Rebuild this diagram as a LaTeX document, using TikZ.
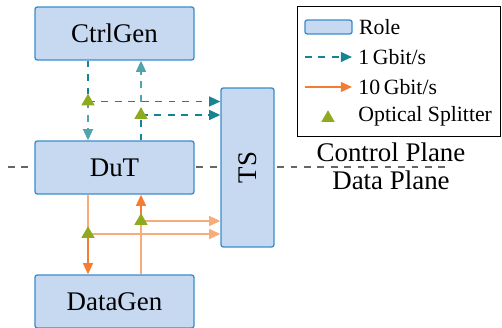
\documentclass[tikz,border=0pt]{standalone}
\usepackage{fontspec}
\setmainfont{Liberation Serif}
\usetikzlibrary{positioning}
\usetikzlibrary{arrows.meta,shapes.geometric}

\definecolor{rolefill}{RGB}{198,217,240}
\definecolor{roledraw}{RGB}{58,140,204}
\definecolor{ctrlcol}{RGB}{23,132,145}
\definecolor{datacol}{RGB}{245,125,50}
\definecolor{splitcol}{RGB}{143,170,30}

\tikzset{
  role/.style={draw=roledraw,fill=rolefill,line width=0.6pt,rounded corners=1pt,
    minimum width=70.9pt,minimum height=23.6pt,inner sep=0pt,font=\large},
  gbit/.style={ctrlcol,dashed,line width=0.8pt},
  tengbit/.style={datacol,line width=0.8pt},
  arrowed/.style={-{Triangle[length=5pt,width=4.4pt]}},
  splitter/.style={regular polygon,regular polygon sides=3,fill=splitcol,
    inner sep=0pt,minimum size=6.9pt},
  plane/.style={gray!80!black,dashed,line width=0.6pt},
  keytext/.style={inner sep=0pt,font=\fontsize{9.7}{11}\selectfont}
}

\begin{document}
\begin{tikzpicture}[x=0.446pt,y=-0.446pt]
\useasboundingbox (0,0) rectangle (502,328);

% plane border
\draw[plane] (8,167) -- (447,167);

% roles
\node[role] (ctrl) at (114.5,33.5) {CtrlGen};
\node[role] (dut) at (114.5,167.5) {DuT};
\node[role] (data) at (114.5,301.5) {DataGen};
\node[role,minimum width=23.6pt,minimum height=70.9pt] (ts) at (247.5,167.5) {\rotatebox{90}{TS}};

% splitters
\coordinate (s1) at (88,101.5);
\coordinate (s2) at (141,115);
\coordinate (s3) at (141,221);
\coordinate (s4) at (88,234);

% 1 Gbit/s
\draw[gbit] (ctrl.south -| s1) -- (s1);
\draw[gbit,arrowed,ctrlcol!75] (s1) -- (s1 |- dut.north);
\draw[gbit,arrowed] (s1) -- (s1 -| ts.west);
\draw[gbit] (dut.north -| s2) -- (s2);
\draw[gbit,arrowed,ctrlcol!75] (s2) -- (s2 |- ctrl.south);
\draw[gbit,arrowed] (s2) -- (s2 -| ts.west);

% 10 Gbit/s
\draw[tengbit,datacol!65] (dut.south -| s4) -- (s4);
\draw[tengbit,arrowed] (s4) -- (s4 |- data.north);
\draw[tengbit,arrowed,datacol!65] (s4) -- (s4 -| ts.west);
\draw[tengbit,datacol!65] (data.north -| s3) -- (s3);
\draw[tengbit,arrowed] (s3) -- (s3 |- dut.south);
\draw[tengbit,arrowed,datacol!65] (s3) -- (s3 -| ts.west);

\foreach \s in {s1,s2,s3,s4}
  \node[splitter] (\s tri) at (\s) {};

\node[font=\large,anchor=base] (cplane) at (391,162) {Control Plane};
\node[font=\large,anchor=base] (dplane) at (391,190) {Data Plane};

% legend
\draw[line width=0.4pt] (297,6) rectangle (500,136);
\node[role,minimum width=21pt,minimum height=6.2pt] (keyrole) at (328.5,27) {};
\node[keytext,right=2.7pt of keyrole] (keyroletext) {Role};
\coordinate (k1a) at (305,57);
\coordinate (k1b) at (352,57);
\draw[gbit,arrowed] (k1a) -- (k1b);
\node[keytext,right=2.7pt of k1b] (k1text) {1\,Gbit/s};
\coordinate (k2a) at (305,87);
\coordinate (k2b) at (352,87);
\draw[tengbit,arrowed] (k2a) -- (k2b);
\node[keytext,right=2.7pt of k2b] (k2text) {10\,Gbit/s};
\node[splitter] (k3) at (328,118) {};
\node[keytext,anchor=west] (k3text) at (358,116) {Optical Splitter};
\end{tikzpicture}
\end{document}
